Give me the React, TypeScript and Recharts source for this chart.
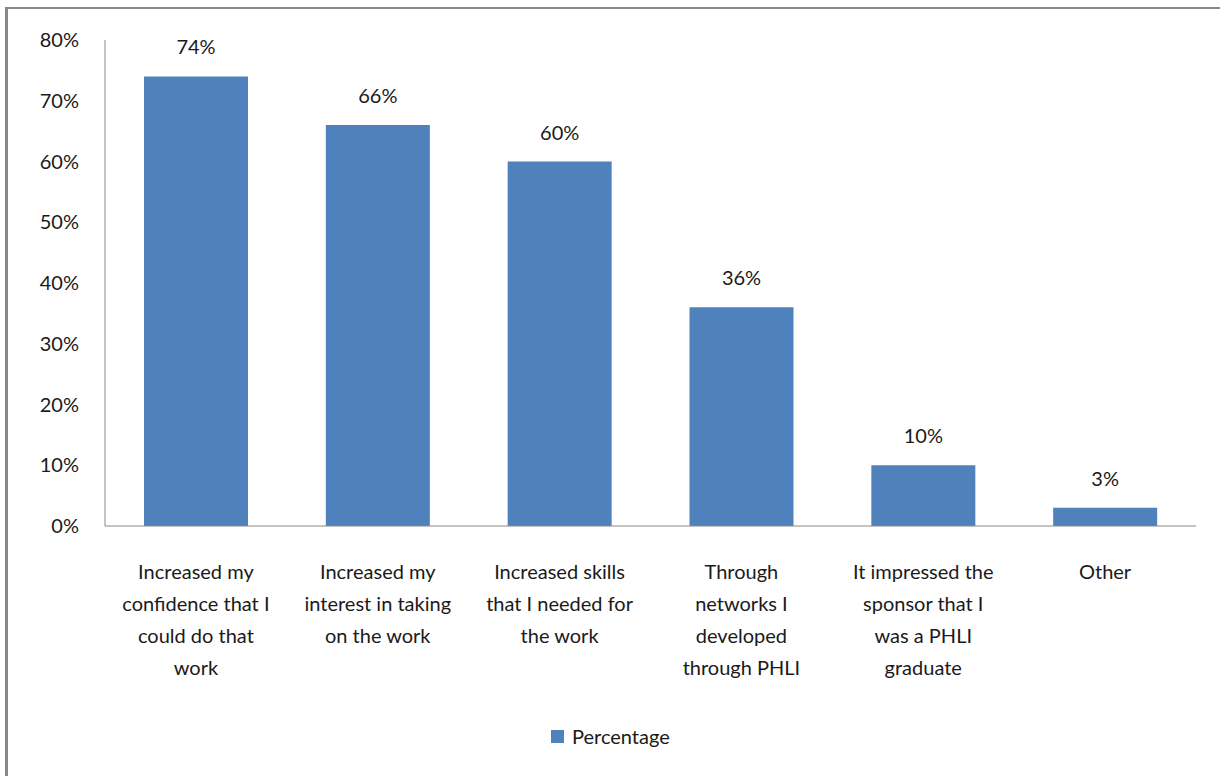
import { BarChart, Bar, XAxis, YAxis, Legend, LabelList } from "recharts";

const categories = [
  "Increased my\nconfidence that I\ncould do that\nwork",
  "Increased my\ninterest in taking\non the work",
  "Increased skills\nthat I needed for\nthe work",
  "Through\nnetworks I\ndeveloped\nthrough PHLI",
  "It impressed the\nsponsor that I\nwas a PHLI\ngraduate",
  "Other",
];
const percentages = [74, 66, 60, 36, 10, 3];
const yTicks = [0, 10, 20, 30, 40, 50, 60, 70, 80];

const data = categories.map((name, i) => ({ name, Percentage: percentages[i] }));

const FONT = "Lato, 'Noto Sans', sans-serif";
const TEXT = "#1a1a1a";

function CategoryTick(props: any) {
  const { x, y, payload } = props;
  const lines = String(payload.value).split("\n");
  return (
    <text x={x} y={y} textAnchor="middle" fill={TEXT} fontFamily={FONT} fontSize={20}>
      {lines.map((line: string, i: number) => (
        <tspan key={i} x={x} dy={i === 0 ? 45 : 32}>
          {line}
        </tspan>
      ))}
    </text>
  );
}

function LegendBox() {
  return (
    <div style={{ display: "flex", alignItems: "center", fontFamily: FONT, fontSize: 20, color: TEXT }}>
      <span style={{ display: "inline-block", width: 13, height: 13, background: "#4F81BD", marginRight: 8 }} />
      <span>Percentage</span>
    </div>
  );
}

export default function App() {
  return (
    <div style={{ position: "absolute", left: 0, top: 0, width: 1220, height: 776, background: "#fff" }}>
      <div
        style={{
          position: "absolute",
          left: 5,
          top: 7,
          width: 1215,
          height: 769,
          borderTop: "2px solid #888",
          borderLeft: "3px solid #888",
          boxSizing: "border-box",
        }}
      />
      <BarChart
        width={1220}
        height={776}
        data={data}
        margin={{ top: 40, right: 24, left: 0, bottom: 0 }}
        style={{ position: "absolute", left: 0, top: 0 }}
      >
        <XAxis
          dataKey="name"
          axisLine={{ stroke: "#888" }}
          tickLine={false}
          interval={0}
          height={226}
          tick={<CategoryTick />}
        />
        <YAxis
          domain={[0, 80]}
          ticks={yTicks}
          width={105}
          axisLine={{ stroke: "#888" }}
          tickLine={false}
          tickSize={0}
          tickMargin={26}
          tickFormatter={(v: number) => `${v}%`}
          tick={{ fill: TEXT, fontFamily: FONT, fontSize: 20 }}
        />
        <Legend
          content={<LegendBox />}
          wrapperStyle={{ position: "absolute", left: 551, top: 724, width: "auto" }}
        />
        <Bar dataKey="Percentage" fill="#4F81BD" barSize={104} isAnimationActive={false}>
          <LabelList
            dataKey="Percentage"
            position="top"
            offset={22}
            formatter={(v: any) => `${v}%`}
            fill={TEXT}
            fontFamily={FONT}
            fontSize={20}
          />
        </Bar>
      </BarChart>
    </div>
  );
}
